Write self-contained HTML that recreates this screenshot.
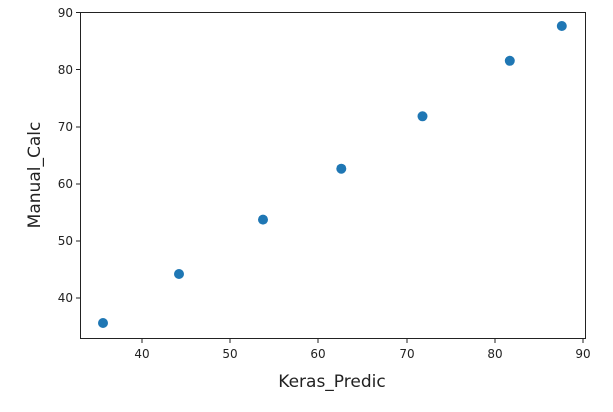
<!DOCTYPE html>
<html><head><style>body{margin:0;background:#fff}</style></head><body>
<svg width="613" height="407" xmlns="http://www.w3.org/2000/svg" font-family="'DejaVu Sans', sans-serif">
<rect width="613" height="407" fill="#fff"/>
<rect x="80.5" y="12.5" width="505" height="326" fill="none" stroke="#222" stroke-width="1"/>
<g stroke="#222">
<line x1="142" y1="339" x2="142" y2="343"/><line x1="230" y1="339" x2="230" y2="343"/><line x1="318" y1="339" x2="318" y2="343"/><line x1="407" y1="339" x2="407" y2="343"/><line x1="495" y1="339" x2="495" y2="343"/><line x1="583" y1="339" x2="583" y2="343"/>
<line x1="76" y1="12.5" x2="80" y2="12.5"/><line x1="76" y1="69.5" x2="80" y2="69.5"/><line x1="76" y1="127" x2="80" y2="127"/><line x1="76" y1="184" x2="80" y2="184"/><line x1="76" y1="241" x2="80" y2="241"/><line x1="76" y1="298" x2="80" y2="298"/>
</g>
<g font-size="12" fill="#222" text-anchor="middle">
<text x="142" y="358">40</text><text x="230" y="358">50</text><text x="318" y="358">60</text><text x="407" y="358">70</text><text x="495" y="358">80</text><text x="583" y="358">90</text>
</g>
<g font-size="12" fill="#222" text-anchor="end">
<text x="73" y="17">90</text><text x="73" y="74">80</text><text x="73" y="131">70</text><text x="73" y="188">60</text><text x="73" y="245">50</text><text x="73" y="302">40</text>
</g>
<text x="332" y="387" font-size="17" fill="#222" text-anchor="middle">Keras_Predic</text>
<text transform="translate(40,175) rotate(-90)" font-size="17" fill="#222" text-anchor="middle">Manual_Calc</text>
<g fill="#1f77b4">
<circle cx="103" cy="323" r="5"/><circle cx="179" cy="274" r="5"/><circle cx="263" cy="219.6" r="5"/><circle cx="341.3" cy="168.7" r="5"/><circle cx="422.5" cy="116.3" r="5"/><circle cx="509.8" cy="60.8" r="5"/><circle cx="561.8" cy="26" r="5"/>
</g>
</svg>
</body></html>
